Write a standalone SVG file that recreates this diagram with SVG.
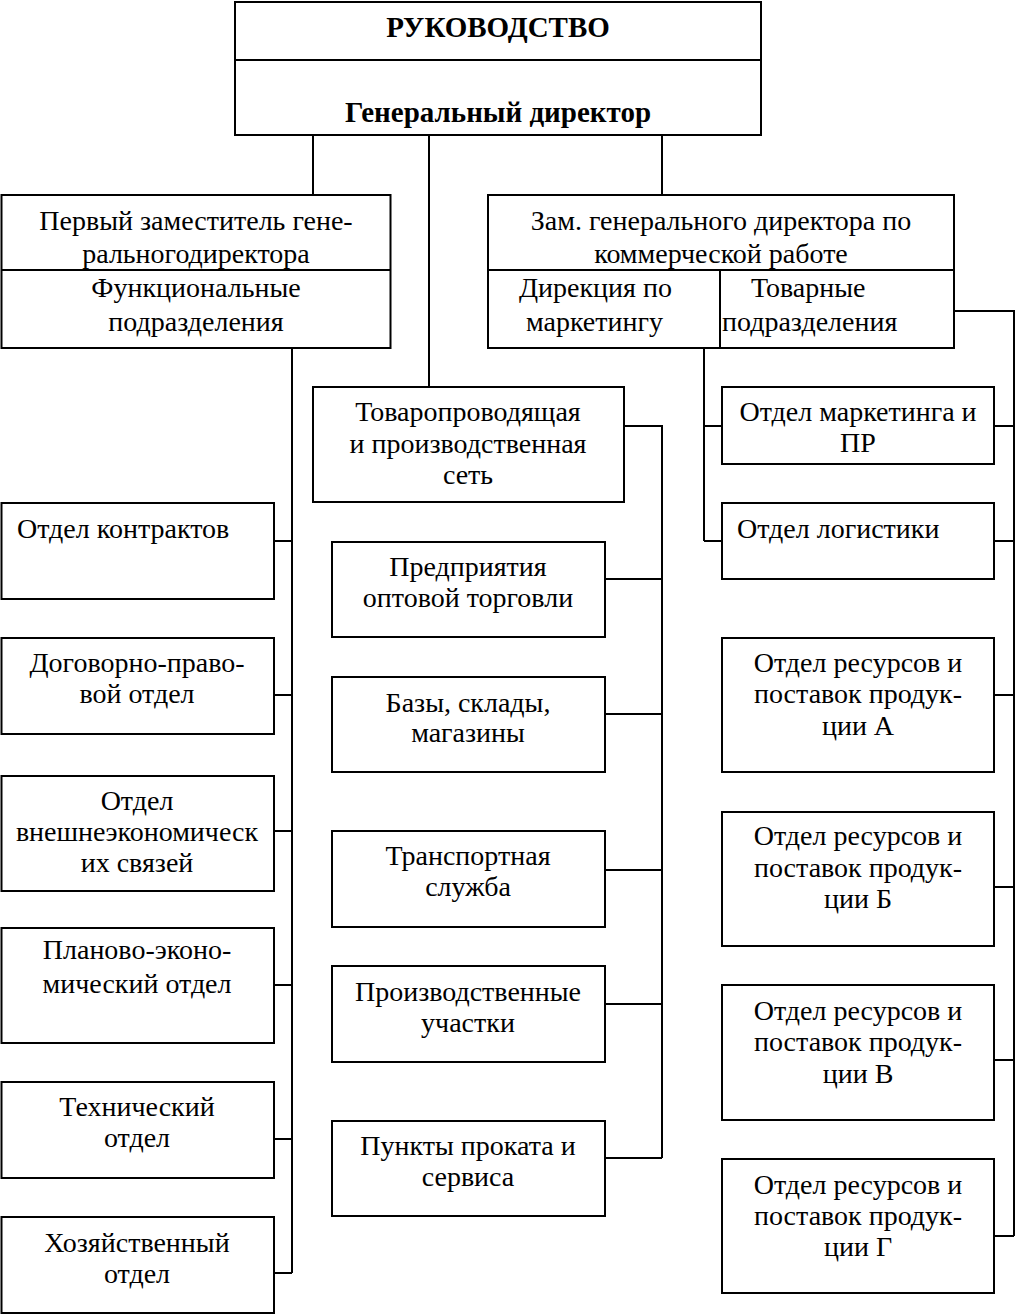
<svg xmlns="http://www.w3.org/2000/svg" width="1015" height="1315" viewBox="0 0 1015 1315">
<style>
.b{fill:#fff;stroke:#000;stroke-width:2}
.l{fill:none;stroke:#000;stroke-width:2}
.t{font-family:'Liberation Serif','Times New Roman',serif;font-size:28px;fill:#000}
.c{text-anchor:middle}
.bold{font-weight:bold;font-size:29px}
</style>
<rect width="1015" height="1315" fill="#fff"/>
<g id="connectors" class="l">
<path d="M313 135V195M429 135V387M662 135V195"/>
<path d="M292 348V1273M274 541H292M274 695H292M274 831H292M274 985H292M274 1139H292M274 1273H292"/>
<path d="M624 426H662V1158M605 579H662M605 714H662M605 870H662M605 1004H662M605 1158H662"/>
<path d="M704 348V541M704 426H722M704 541H722"/>
<path d="M954 311H1014V1236M994 426H1014M994 541H1014M994 695H1014M994 887H1014M994 1060H1014M994 1236H1014"/>
</g>
<g class="t">
<g id="rukovodstvo">
<rect class="b" x="235" y="2" width="526" height="133"/>
<path class="l" d="M235 60H761"/>
<text class="c bold" x="498" y="37">РУКОВОДСТВО</text>
<text class="c bold" x="498" y="122">Генеральный директор</text>
</g>
<g id="first-deputy">
<rect class="b" x="1.5" y="195" width="389" height="153"/>
<path class="l" d="M1.5 270H390.5"/>
<text class="c" x="196" y="230">Первый заместитель гене-</text>
<text class="c" x="196" y="263">ральногодиректора</text>
<text class="c" x="196" y="297">Функциональные</text>
<text class="c" x="196" y="331">подразделения</text>
</g>
<g id="commercial-deputy">
<rect class="b" x="488" y="195" width="466" height="153"/>
<path class="l" d="M488 270H954M720 270V348"/>
<text class="c" x="721" y="230">Зам. генерального директора по</text>
<text class="c" x="721" y="263">коммерческой работе</text>
<text x="519" y="297">Дирекция по</text>
<text x="526" y="331">маркетингу</text>
<text x="751" y="297">Товарные</text>
<text x="722" y="331">подразделения</text>
</g>
<g id="distribution-network">
<rect class="b" x="313" y="387" width="311" height="115"/>
<text class="c" x="468" y="421">Товаропроводящая</text>
<text class="c" x="468" y="453">и производственная</text>
<text class="c" x="468" y="484">сеть</text>
</g>
<g id="contracts">
<rect class="b" x="1.5" y="503" width="272.5" height="96"/>
<text x="17" y="538">Отдел контрактов</text>
</g>
<g id="legal">
<rect class="b" x="1.5" y="638" width="272.5" height="96"/>
<text class="c" x="137" y="672">Договорно-право-</text>
<text class="c" x="137" y="703">вой отдел</text>
</g>
<g id="foreign">
<rect class="b" x="1.5" y="776" width="272.5" height="115"/>
<text class="c" x="137" y="810">Отдел</text>
<text class="c" x="137" y="841">внешнеэкономическ</text>
<text class="c" x="137" y="872">их связей</text>
</g>
<g id="planning">
<rect class="b" x="1.5" y="928" width="272.5" height="115"/>
<text class="c" x="137" y="959">Планово-эконо-</text>
<text class="c" x="137" y="993">мический отдел</text>
</g>
<g id="technical">
<rect class="b" x="1.5" y="1082" width="272.5" height="96"/>
<text class="c" x="137" y="1116">Технический</text>
<text class="c" x="137" y="1147">отдел</text>
</g>
<g id="household">
<rect class="b" x="1.5" y="1217" width="272.5" height="96"/>
<text class="c" x="137" y="1252">Хозяйственный</text>
<text class="c" x="137" y="1283">отдел</text>
</g>
<g id="wholesale">
<rect class="b" x="332" y="542" width="273" height="95"/>
<text class="c" x="468" y="576">Предприятия</text>
<text class="c" x="468" y="607">оптовой торговли</text>
</g>
<g id="warehouses">
<rect class="b" x="332" y="677" width="273" height="95"/>
<text class="c" x="468" y="712">Базы, склады,</text>
<text class="c" x="468" y="742">магазины</text>
</g>
<g id="transport">
<rect class="b" x="332" y="831" width="273" height="96"/>
<text class="c" x="468" y="865">Транспортная</text>
<text class="c" x="468" y="896">служба</text>
</g>
<g id="production">
<rect class="b" x="332" y="966" width="273" height="96"/>
<text class="c" x="468" y="1001">Производственные</text>
<text class="c" x="468" y="1032">участки</text>
</g>
<g id="rental">
<rect class="b" x="332" y="1121" width="273" height="95"/>
<text class="c" x="468" y="1155">Пункты проката и</text>
<text class="c" x="468" y="1186">сервиса</text>
</g>
<g id="marketing">
<rect class="b" x="722" y="387" width="272" height="77"/>
<text class="c" x="858" y="421">Отдел маркетинга и</text>
<text class="c" x="858" y="452">ПР</text>
</g>
<g id="logistics">
<rect class="b" x="722" y="503" width="272" height="76"/>
<text x="737" y="538">Отдел логистики</text>
</g>
<g id="resources-a">
<rect class="b" x="722" y="638" width="272" height="134"/>
<text class="c" x="858" y="672">Отдел ресурсов и</text>
<text class="c" x="858" y="703">поставок продук-</text>
<text class="c" x="858" y="735">ции А</text>
</g>
<g id="resources-b">
<rect class="b" x="722" y="812" width="272" height="134"/>
<text class="c" x="858" y="845">Отдел ресурсов и</text>
<text class="c" x="858" y="877">поставок продук-</text>
<text class="c" x="858" y="908">ции Б</text>
</g>
<g id="resources-v">
<rect class="b" x="722" y="985" width="272" height="135"/>
<text class="c" x="858" y="1020">Отдел ресурсов и</text>
<text class="c" x="858" y="1051">поставок продук-</text>
<text class="c" x="858" y="1083">ции В</text>
</g>
<g id="resources-g">
<rect class="b" x="722" y="1159" width="272" height="134"/>
<text class="c" x="858" y="1194">Отдел ресурсов и</text>
<text class="c" x="858" y="1225">поставок продук-</text>
<text class="c" x="858" y="1256">ции Г</text>
</g>
</g>
</svg>
